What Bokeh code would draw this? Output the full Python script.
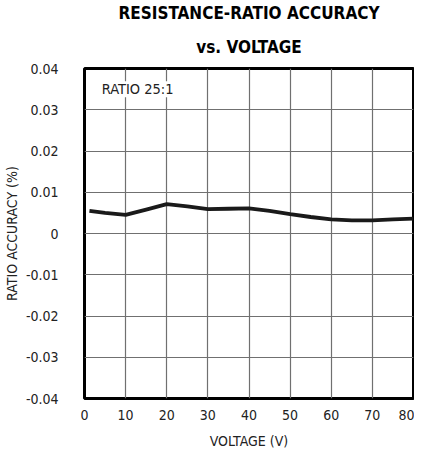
from bokeh.plotting import figure
from bokeh.models import Title, Label, FixedTicker, Range1d
from bokeh.embed import file_html
from bokeh.resources import INLINE

voltage = [1.2, 5, 10, 15, 20, 25, 30, 35, 40, 45, 50, 55, 60, 65, 70, 75, 80]
accuracy = [0.0055, 0.0050, 0.0045, 0.0058, 0.0071, 0.0066, 0.0059, 0.0060, 0.0061,
            0.0055, 0.0047, 0.0040, 0.0034, 0.0032, 0.0032, 0.0034, 0.0036]
x_ticks = [0, 10, 20, 30, 40, 50, 60, 70, 80]
y_ticks = [-0.04, -0.03, -0.02, -0.01, 0, 0.01, 0.02, 0.03, 0.04]
y_labels = {-0.04: "-0.04", -0.03: "-0.03", -0.02: "-0.02", -0.01: "-0.01", 0: "0",
            0.01: "0.01", 0.02: "0.02", 0.03: "0.03", 0.04: "0.04"}

FONT = "DejaVu Sans Condensed"

p = figure(frame_width=329, frame_height=330, output_backend="svg", toolbar_location=None,
           x_range=Range1d(0, 80), y_range=Range1d(-0.04, 0.04),
           min_border_left=75, min_border_right=1, min_border_top=64, min_border_bottom=0)

p.line(voltage, accuracy, line_color="#1a1a1a", line_width=3.8)

p.add_layout(Title(text="vs. VOLTAGE", text_font=FONT, text_font_size="17px",
                   text_font_style="bold", align="center", text_color="black",
                   standoff=24), "above")
p.add_layout(Title(text="RESISTANCE-RATIO ACCURACY", text_font=FONT, text_font_size="17px",
                   text_font_style="bold", align="center", text_color="black",
                   standoff=0), "above")

p.xaxis.ticker = FixedTicker(ticks=x_ticks)
p.yaxis.ticker = FixedTicker(ticks=y_ticks)
p.yaxis.major_label_overrides = y_labels
for ax in (p.xaxis, p.yaxis):
    ax.axis_line_color = None
    ax.major_tick_line_color = None
    ax.minor_tick_line_color = None
    ax.major_label_text_font = FONT
    ax.major_label_text_font_size = "14px"
    ax.major_label_text_color = "#222222"
    ax.axis_label_text_font = FONT
    ax.axis_label_text_font_size = "14px"
    ax.axis_label_text_font_style = "normal"
    ax.axis_label_text_color = "#222222"
p.xaxis.axis_label = "VOLTAGE (V)"
p.yaxis.axis_label = "RATIO ACCURACY (%)"
p.xaxis.major_label_standoff = 5
p.yaxis.major_label_standoff = 20
p.xaxis.axis_label_standoff = 10
p.yaxis.axis_label_standoff = 3

p.xgrid.grid_line_color = "#707070"
p.ygrid.grid_line_color = "#707070"
p.xgrid.grid_line_width = 1.2
p.ygrid.grid_line_width = 1.2

p.outline_line_color = "black"
p.outline_line_width = 3
p.outline_line_alpha = 1

p.add_layout(Label(x=4.2, y=0.0350, text="RATIO 25:1", text_font=FONT, text_font_size="14.5px",
                   text_color="#222222", background_fill_color="white",
                   text_baseline="middle"))

p.background_fill_color = "white"
p.border_fill_color = "white"

open("out.html", "w").write(file_html(p, INLINE))
